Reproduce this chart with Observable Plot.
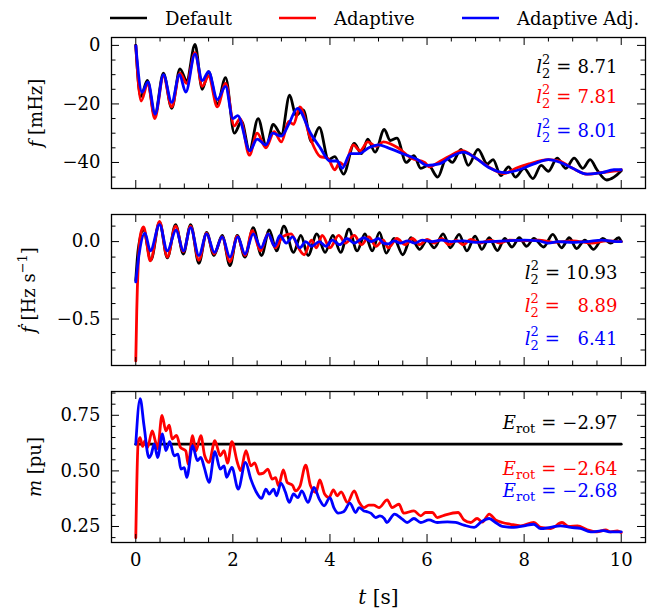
<!DOCTYPE html>
<html><head><meta charset="utf-8">
<script src="https://cdn.jsdelivr.net/npm/d3@7"></script>
<script src="https://cdn.jsdelivr.net/npm/@observablehq/plot@0.6"></script>
<style>
body{margin:0;background:#fff;}
#chart{position:relative;width:657px;height:612px;font-family:"DejaVu Serif",serif;overflow:hidden;}
#chart svg{position:absolute;left:0;overflow:visible;}
#chart svg text, #chart svg tspan{font-family:"DejaVu Serif",serif !important;white-space:pre;}
</style></head><body><div id="chart"></div>
<script>
// ---------- data ----------
const seriesNames = ["Default", "Adaptive", "Adaptive Adj."];
const seriesColors = ["black", "red", "blue"];

const xMajor = [0, 2, 4, 6, 8, 10];
const xMinor = [0.5,1,1.5,2.5,3,3.5,4.5,5,5.5,6.5,7,7.5,8.5,9,9.5,10.5,-0.5];

// panel 1: f [mHz]
const fDefault = [[0,0],[0.1,-17.5],[0.24,-12],[0.39,-24],[0.57,-9.5],[0.74,-21.5],[0.91,-8],[1.05,-12],[1.22,0.3],[1.37,-15],[1.5,-9],[1.68,-20],[1.85,-11],[2.03,-30],[2.18,-26],[2.34,-36],[2.52,-25],[2.69,-34.5],[2.83,-27],[3.0,-30.5],[3.17,-17],[3.3,-24],[3.45,-22],[3.62,-33],[3.78,-28],[3.97,-39],[4.1,-38],[4.28,-44],[4.5,-33.5],[4.65,-37],[4.78,-32],[4.93,-36.5],[5.12,-28.7],[5.24,-32.5],[5.38,-31.7],[5.57,-40],[5.73,-37.7],[5.87,-42],[6.03,-41],[6.22,-45],[6.4,-38.5],[6.52,-40],[6.7,-35.5],[6.85,-41],[7.05,-35.5],[7.24,-40.5],[7.36,-39],[7.52,-44.5],[7.68,-41.5],[7.82,-45],[8.0,-42],[8.18,-45.5],[8.35,-41],[8.5,-43],[8.68,-38.5],[8.86,-42],[9.03,-38.5],[9.21,-42],[9.36,-39],[9.5,-42.5],[9.7,-46],[9.85,-45],[10,-42.8]];
const fAdaptive = [[0,0],[0.11,-19],[0.25,-13],[0.39,-25],[0.57,-10.5],[0.74,-21],[0.91,-9.5],[1.05,-13],[1.22,-2.5],[1.37,-14],[1.5,-10.5],[1.68,-21],[1.85,-13],[2.03,-27.5],[2.15,-25],[2.34,-37.5],[2.5,-30],[2.68,-35],[2.85,-29.5],[3.0,-33],[3.15,-26],[3.25,-27],[3.38,-21],[3.6,-32],[3.8,-38],[3.95,-38.5],[4.1,-42.5],[4.2,-40],[4.3,-41],[4.48,-34],[4.62,-36],[4.78,-33],[4.95,-34.5],[5.1,-33],[5.4,-35],[5.67,-38.5],[5.95,-40],[6.05,-41.5],[6.23,-40],[6.45,-38],[6.72,-36],[7.0,-38.5],[7.27,-41.5],[7.58,-43.8],[7.83,-42],[8.1,-40.5],[8.5,-39],[8.73,-39.5],[9.0,-42],[9.3,-44],[9.57,-43.5],[9.84,-43],[10,-42.5]];
const fAdaptiveAdj = [[0,0],[0.13,-16],[0.25,-12.5],[0.4,-23.5],[0.57,-10],[0.74,-19.5],[0.9,-10],[1.03,-16],[1.22,-3],[1.37,-12],[1.5,-9],[1.68,-18.5],[1.85,-14],[2.0,-25],[2.1,-24],[2.35,-36],[2.5,-32],[2.68,-34],[2.82,-30],[3.0,-31],[3.15,-27],[3.33,-21.5],[3.6,-30],[3.8,-35],[4.0,-39.5],[4.15,-39.5],[4.25,-42],[4.42,-37],[4.6,-37],[4.8,-35],[5.0,-34],[5.2,-35],[5.5,-37],[5.8,-39],[6.0,-41],[6.25,-40.5],[6.5,-38],[6.75,-36.5],[7.0,-38.5],[7.3,-42],[7.6,-43.5],[7.9,-42.5],[8.2,-40.5],[8.5,-39],[8.75,-40],[9.0,-42],[9.3,-44],[9.6,-43.5],[9.85,-42.5],[10,-42.5]];
const fTicks = [0, -20, -40];
const fMinor = [-5,-10,-15,-25,-30,-35,-45];

// panel 2: f-dot [Hz/s]
const fdDefault = [[0,-0.25],[0.05,-0.05],[0.16,0.075],[0.31,-0.12],[0.49,0.125],[0.65,-0.105],[0.82,0.11],[0.98,-0.08],[1.13,0.11],[1.3,-0.14],[1.46,0.06],[1.61,-0.09],[1.78,0.04],[1.94,-0.155],[2.09,0.04],[2.25,-0.1],[2.42,0.09],[2.59,-0.09],[2.75,0.075],[2.9,-0.06],[3.05,0.1],[3.25,-0.07],[3.4,0.04],[3.55,-0.09],[3.73,0.05],[3.9,-0.07],[4.06,0.04],[4.22,-0.07],[4.39,0.08],[4.56,-0.06],[4.72,0.05],[4.87,-0.06],[5.02,0.06],[5.16,-0.075],[5.32,0.02],[5.5,-0.085],[5.67,0.025],[5.85,-0.05],[6.0,0.01],[6.15,-0.04],[6.33,0.05],[6.48,-0.04],[6.66,0.047],[6.82,-0.06],[6.99,0.036],[7.13,-0.05],[7.28,0.025],[7.45,-0.058],[7.6,0.02],[7.75,-0.035],[7.9,0.025],[8.05,-0.03],[8.2,0.02],[8.4,-0.035],[8.59,0.047],[8.77,-0.04],[8.93,0.025],[9.08,-0.045],[9.25,0.01],[9.43,-0.05],[9.62,0.02],[9.78,-0.01],[9.95,0.025],[10,0.0]];
const fdAdaptive = [[0,-0.77],[0.02,-0.45],[0.05,-0.15],[0.1,0.05],[0.16,0.095],[0.3,-0.125],[0.49,0.13],[0.65,-0.1],[0.82,0.1],[0.98,-0.065],[1.13,0.1],[1.3,-0.12],[1.46,0.055],[1.61,-0.08],[1.78,0.03],[1.94,-0.13],[2.09,0.035],[2.25,-0.09],[2.4,0.07],[2.57,-0.06],[2.72,0.05],[2.88,-0.04],[3.02,0.03],[3.2,0.05],[3.35,-0.04],[3.47,-0.085],[3.62,0.01],[3.72,-0.04],[3.84,0.04],[4.0,-0.04],[4.18,0.04],[4.32,-0.01],[4.5,0.04],[4.65,-0.02],[4.8,0.03],[4.95,-0.03],[5.1,0.01],[5.2,-0.04],[5.38,0.02],[5.55,-0.02],[5.7,0.02],[5.85,-0.02],[6.0,0.015],[6.15,-0.01],[6.3,0.02],[6.45,-0.02],[6.6,0.01],[6.75,-0.02],[6.9,0.015],[7.1,-0.01],[7.3,0.01],[7.5,-0.01],[7.7,0.01],[8.0,0.005],[8.3,0.01],[8.6,-0.005],[9.0,0.005],[9.4,-0.01],[9.7,0.005],[10,0.0]];
const fdAdaptiveAdj = [[0,-0.26],[0.06,-0.1],[0.19,0.055],[0.3,-0.06],[0.49,0.11],[0.65,-0.06],[0.83,0.075],[0.98,-0.06],[1.13,0.09],[1.3,-0.09],[1.46,0.05],[1.62,-0.07],[1.78,0.03],[1.94,-0.1],[2.1,0.03],[2.25,-0.08],[2.42,0.05],[2.58,-0.04],[2.73,0.05],[2.86,-0.03],[2.97,0.04],[3.1,-0.01],[3.23,0.03],[3.38,-0.04],[3.5,0.0],[3.62,-0.03],[3.78,0.0],[3.92,-0.03],[4.05,0.01],[4.2,-0.02],[4.35,0.02],[4.5,-0.01],[4.7,0.025],[4.85,0.0],[5.0,0.02],[5.1,-0.01],[5.2,-0.015],[5.32,0.005],[5.45,-0.01],[5.6,0.005],[5.75,-0.01],[5.9,0.01],[6.1,0.0],[6.3,0.01],[6.5,0.0],[6.75,0.005],[7.0,-0.005],[7.3,0.0],[7.6,0.005],[8.0,0.01],[8.3,0.005],[8.5,-0.01],[8.7,0.0],[9.0,-0.005],[9.3,0.0],[9.6,0.01],[9.9,0.0],[10,0.0]];
const fdTicks = [0, -0.5];
const fdMinor = [0.1,-0.1,-0.2,-0.3,-0.4,-0.6,-0.7];

// panel 3: m [pu]
const mDefault = [[0,0.62],[10,0.62]];
const mAdaptive = [[0,0.2],[0.05,0.63],[0.09,0.65],[0.14,0.61],[0.19,0.636],[0.24,0.605],[0.34,0.68],[0.4,0.636],[0.45,0.6],[0.54,0.75],[0.62,0.68],[0.69,0.706],[0.75,0.643],[0.84,0.66],[0.92,0.606],[1.03,0.59],[1.08,0.53],[1.17,0.659],[1.24,0.59],[1.34,0.659],[1.42,0.568],[1.51,0.538],[1.63,0.636],[1.74,0.568],[1.82,0.591],[1.89,0.535],[1.98,0.631],[2.09,0.54],[2.16,0.501],[2.27,0.591],[2.37,0.523],[2.45,0.536],[2.54,0.486],[2.63,0.49],[2.72,0.508],[2.81,0.463],[2.88,0.47],[2.94,0.433],[3.04,0.505],[3.12,0.448],[3.23,0.435],[3.29,0.41],[3.38,0.43],[3.5,0.526],[3.6,0.433],[3.71,0.403],[3.79,0.46],[3.89,0.396],[3.98,0.38],[4.07,0.415],[4.15,0.388],[4.23,0.406],[4.36,0.358],[4.5,0.41],[4.6,0.36],[4.7,0.335],[4.8,0.346],[4.9,0.346],[5.01,0.335],[5.18,0.37],[5.28,0.335],[5.42,0.35],[5.52,0.31],[5.73,0.32],[5.87,0.298],[5.97,0.313],[6.11,0.313],[6.21,0.29],[6.35,0.3],[6.64,0.313],[6.76,0.28],[6.9,0.268],[7.03,0.286],[7.14,0.27],[7.28,0.306],[7.41,0.28],[7.55,0.268],[7.72,0.26],[7.93,0.253],[8.2,0.268],[8.34,0.246],[8.55,0.241],[8.78,0.268],[8.92,0.25],[9.1,0.253],[9.3,0.235],[9.5,0.226],[9.68,0.235],[9.78,0.226],[9.92,0.23],[10,0.223]];
const mAdaptiveAdj = [[0,0.62],[0.09,0.825],[0.17,0.703],[0.27,0.56],[0.32,0.575],[0.38,0.621],[0.45,0.56],[0.55,0.666],[0.62,0.591],[0.7,0.631],[0.79,0.568],[0.87,0.575],[0.93,0.508],[1.0,0.515],[1.05,0.471],[1.17,0.613],[1.27,0.546],[1.34,0.561],[1.41,0.516],[1.51,0.448],[1.63,0.586],[1.74,0.508],[1.82,0.523],[1.87,0.471],[1.98,0.516],[2.11,0.418],[2.26,0.538],[2.37,0.463],[2.47,0.41],[2.59,0.376],[2.68,0.418],[2.75,0.396],[2.84,0.418],[2.9,0.388],[2.99,0.445],[3.08,0.406],[3.16,0.358],[3.25,0.396],[3.34,0.38],[3.42,0.41],[3.55,0.358],[3.67,0.426],[3.78,0.373],[3.88,0.343],[4.0,0.38],[4.08,0.335],[4.17,0.31],[4.28,0.316],[4.41,0.355],[4.53,0.313],[4.6,0.335],[4.7,0.32],[4.77,0.316],[4.84,0.31],[4.94,0.29],[5.03,0.298],[5.12,0.285],[5.17,0.268],[5.33,0.306],[5.49,0.283],[5.59,0.268],[5.73,0.286],[5.87,0.268],[6.04,0.28],[6.21,0.268],[6.42,0.271],[6.59,0.268],[6.76,0.256],[6.97,0.246],[7.1,0.268],[7.28,0.286],[7.41,0.268],[7.55,0.25],[7.79,0.246],[8.0,0.253],[8.2,0.26],[8.34,0.24],[8.54,0.246],[8.75,0.253],[8.96,0.246],[9.16,0.241],[9.37,0.226],[9.64,0.231],[9.78,0.226],[10,0.226]];
const mTicks = [0.25, 0.5, 0.75];
const mMinor = [0.2,0.3,0.35,0.4,0.45,0.55,0.6,0.65,0.7,0.8,0.85];

// annotation texts
const fNotes = ["l22 = 8.71", "l22 = 7.81", "l22 = 8.01"];
const fdNotes = ["l22 = 10.93", "l22 = 8.89", "l22 = 6.41"];
const mNotes = ["Erot = \u22122.97", "Erot = \u22122.64", "Erot = \u22122.68"];

// ---------- rich text (italic / sub / superscripts) ----------
const FS = 18, SUB = 13;
function l2(num, pad) { return [["l",{italic:1}],["2",{size:SUB,dy:-9}],["2",{size:SUB,dx:-8.3,dy:14}],["=",{dx:6,dy:-5}],[num,{dx:6 + (pad||0)}]]; }
function erot(num) { return [["E",{italic:1}],["rot",{size:SUB,dy:4}],["=",{dx:6,dy:-4}],[num,{dx:6}]]; }
const richText = {
  "f [mHz]": [["f",{italic:1}],[" [mHz]"]],
  "fdot [Hz s-1]": [["\u1E1F",{italic:1}],[" [Hz s"],["\u22121",{size:SUB,dy:-8}],["]",{dy:8}]],
  "m [pu]": [["m",{italic:1}],[" [pu]"]],
  "t [s]": [["t",{italic:1}],[" [s]"]],
  [fNotes[0]]: l2("8.71"), [fNotes[1]]: l2("7.81"), [fNotes[2]]: l2("8.01"),
  [fdNotes[0]]: l2("10.93"), [fdNotes[1]]: l2("8.89", 11.5), [fdNotes[2]]: l2("6.41", 11.5),
  [mNotes[0]]: erot("\u22122.97"), [mNotes[1]]: erot("\u22122.64"), [mNotes[2]]: erot("\u22122.68")
};
function enrich(svg) {
  d3.select(svg).selectAll("text").each(function() {
    const spec = richText[this.textContent];
    if (!spec) return;
    const sel = d3.select(this).text(null);
    for (const [s, a = {}] of spec) {
      const t = sel.append("tspan").text(s);
      if (a.italic) t.attr("font-style", "italic");
      if (a.size) t.attr("font-size", a.size);
      if (a.dx) t.attr("dx", a.dx);
      if (a.dy) t.attr("dy", a.dy);
    }
  });
}

// ---------- layout ----------
const W = 657, ML = 111, MR = 12, FW = W - ML - MR, FH = 151, FONT = "DejaVu Serif, serif";
const chart = document.getElementById("chart");

function panel({series, domain, ticks, minor, fmt, notes, noteDy, label, labelDx, top, last}) {
  const mt = 5, mb = last ? 70 : 5;
  const marks = [
    ...series.map((s, i) => Plot.line(s, {x: d => d[0], y: d => d[1], stroke: seriesColors[i], strokeWidth: 2.8, curve: "monotone-x"})),
    Plot.tickX(xMajor, {x: d => d, insetTop: FH - 8, stroke: "black", strokeWidth: 1}),
    Plot.tickX(xMajor, {x: d => d, insetBottom: FH - 8, stroke: "black", strokeWidth: 1}),
    Plot.tickX(xMinor, {x: d => d, insetTop: FH - 4.5, stroke: "black", strokeWidth: 1}),
    Plot.tickX(xMinor, {x: d => d, insetBottom: FH - 4.5, stroke: "black", strokeWidth: 1}),
    Plot.tickY(ticks, {y: d => d, insetRight: FW - 8, stroke: "black", strokeWidth: 1}),
    Plot.tickY(ticks, {y: d => d, insetLeft: FW - 8, stroke: "black", strokeWidth: 1}),
    Plot.tickY(minor, {y: d => d, insetRight: FW - 4.5, stroke: "black", strokeWidth: 1}),
    Plot.tickY(minor, {y: d => d, insetLeft: FW - 4.5, stroke: "black", strokeWidth: 1}),
    Plot.frame({stroke: "black", strokeWidth: 1.3}),
    Plot.axisY({ticks, tickSize: 0, tickPadding: 11, tickFormat: fmt, fontSize: FS, label: null}),
    ...notes.map((n, i) => Plot.text([n], {text: d => d, frameAnchor: "top-right", lineAnchor: "middle", dx: -28, dy: noteDy[i], textAnchor: "end", fill: seriesColors[i], fontSize: FS})),
    Plot.text([label], {text: d => d, frameAnchor: "left", lineAnchor: "middle", rotate: -90, dx: labelDx, textAnchor: "middle", fill: "black", fontSize: FS})
  ];
  if (last) {
    marks.push(Plot.axisX({ticks: xMajor, tickSize: 0, tickPadding: 11, tickFormat: d3.format("d"), fontSize: FS, label: null}));
    marks.push(Plot.text(["t [s]"], {text: d => d, frameAnchor: "bottom", lineAnchor: "middle", dy: 55, textAnchor: "middle", fill: "black", fontSize: 20}));
  }
  const svg = Plot.plot({
    width: W, height: mt + FH + mb,
    marginLeft: ML, marginRight: MR, marginTop: mt, marginBottom: mb,
    x: {domain: [-0.5, 10.5], axis: null},
    y: {domain, axis: null},
    style: {background: "transparent", overflow: "visible"},
    marks
  });
  svg.setAttribute("font-family", FONT);
  svg.style.fontFamily = FONT;
  enrich(svg);
  svg.style.top = top + "px";
  chart.appendChild(svg);
}

panel({series: [fDefault, fAdaptive, fAdaptiveAdj], domain: [-48.9, 2.7], ticks: fTicks, minor: fMinor,
  fmt: d3.format("d"), notes: fNotes, noteDy: [30, 60, 94], label: "f [mHz]", labelDx: -75, top: 32});
panel({series: [fdDefault, fdAdaptive, fdAdaptiveAdj], domain: [-0.80, 0.175], ticks: fdTicks, minor: fdMinor,
  fmt: d3.format(".1f"), notes: fdNotes, noteDy: [58.5, 91.5, 125], label: "fdot [Hz s-1]", labelDx: -82, top: 209});
panel({series: [mDefault, mAdaptive, mAdaptiveAdj], domain: [0.178, 0.857], ticks: mTicks, minor: mMinor,
  fmt: d3.format(".2f"), notes: mNotes, noteDy: [31.5, 77.8, 100], label: "m [pu]", labelDx: -76, top: 386, last: true});

// ---------- legend ----------
const legendSwatchX = [110, 279, 462];
const leg = d3.select(chart).append("svg").attr("width", W).attr("height", 36).style("top", "0px")
  .attr("font-family", FONT).attr("font-size", FS);
seriesNames.forEach((n, i) => {
  leg.append("line").attr("x1", legendSwatchX[i]).attr("x2", legendSwatchX[i] + 37).attr("y1", 18).attr("y2", 18)
    .attr("stroke", seriesColors[i]).attr("stroke-width", 2.5);
  leg.append("text").attr("x", legendSwatchX[i] + 55).attr("y", 24.5).attr("fill", "black").text(n);
});
</script></body></html>
